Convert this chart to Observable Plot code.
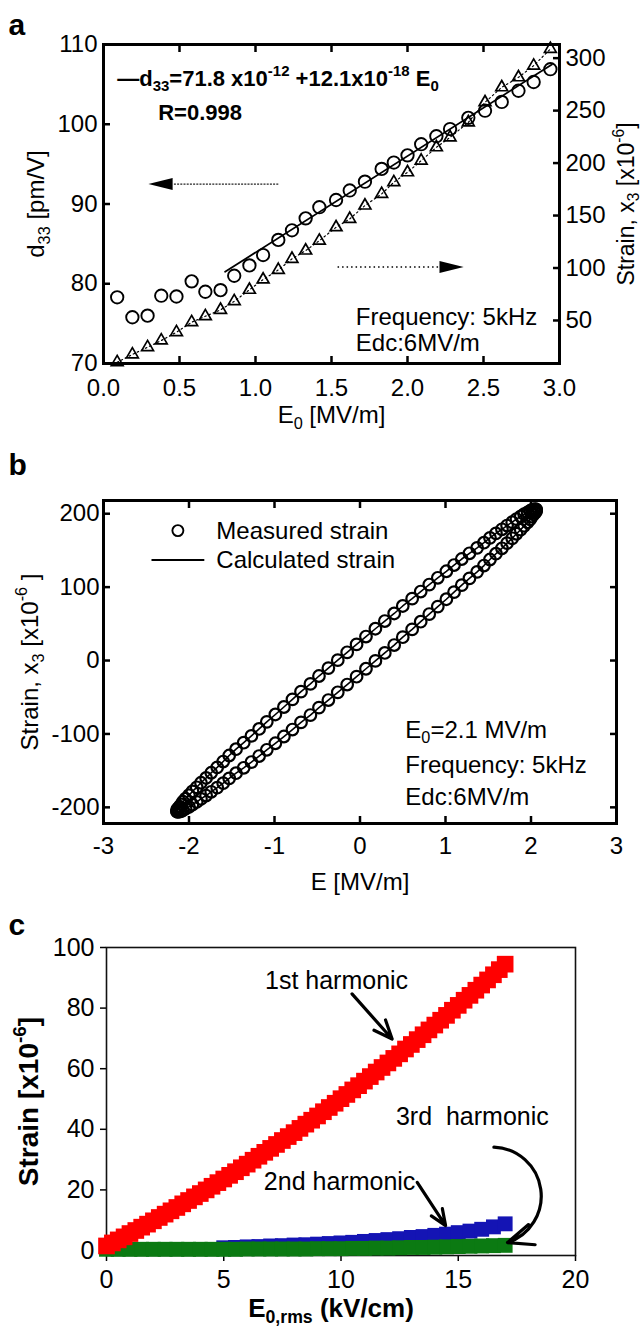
<!DOCTYPE html>
<html>
<head>
<meta charset="utf-8">
<script src="https://cdn.jsdelivr.net/npm/d3@7"></script>
<script src="https://cdn.jsdelivr.net/npm/@observablehq/plot@0.6"></script>
<style>
html, body { margin: 0; padding: 0; background: #fff; }
#chart { width: 644px; }
#chart svg { display: block; }
</style>
</head>
<body>
<div id="chart"></div>
<script>
// ================= Panel a data =================
const aE0 = [0.09,0.19,0.29,0.38,0.48,0.58,0.67,0.77,0.86,0.96,1.05,1.15,1.24,1.33,1.42,1.53,1.62,1.72,1.83,1.91,2.00,2.09,2.19,2.28,2.40,2.51,2.62,2.73,2.83,2.94];
const aD33 = [78.3,75.8,76.0,78.5,78.4,80.3,79.0,79.2,81.0,82.3,83.6,85.5,86.7,88.2,89.6,90.5,91.7,92.8,94.4,95.2,96.1,97.5,98.5,99.4,100.8,101.7,102.8,104.2,105.3,106.9];
const aStrain = [10.2,17.6,24.5,30.9,38.8,48.3,54.0,60.1,68.3,79.2,89.0,98.2,108.7,116.6,126.0,138.8,146.8,159.5,170.6,181.7,191.2,202.3,215.0,224.5,238.8,257.9,272.2,281.7,292.8,308.7];
const aFitE0 = [0.80, 2.95];
const aFitD33 = [81.5, 107.5];
const aXTicks = [0, 0.5, 1, 1.5, 2, 2.5, 3];
const aYTicks = [70, 80, 90, 100, 110];
const aStrainTicks = [50, 100, 150, 200, 250, 300];
const aStrainDomain = [9, 313];
const aArrowFrom = [1.15, 1.54];
const aArrowTo = [0.46, 2.22];
const aArrowY = [92.5, 82.1];
const aArrowHeadX = [0.375, 2.29];
const aArrowRot = [180, 0];
const aBoldText = ["—d_{33}=71.8 x10^{-12} +12.1x10^{-18} E_{0}", "R=0.998"];
const aBoldX = [0.09, 0.36];
const aBoldY = [105.7, 101.4];
const aNoteText = ["Frequency: 5kHz", "Edc:6MV/m"];
const aNoteX = [1.66, 1.66];
const aNoteY = [75.8, 72.5];

// ================= Panel b data =================
const bE = [2.06,2.06,2.05,2.03,2.01,1.99,1.96,1.92,1.88,1.83,1.78,1.72,1.66,1.59,1.52,1.45,1.37,1.28,1.19,1.10,1.01,0.91,0.81,0.71,0.61,0.50,0.40,0.29,0.18,0.07,
  -0.04,-0.15,-0.26,-0.37,-0.48,-0.58,-0.69,-0.79,-0.89,-0.99,-1.09,-1.18,-1.27,-1.36,-1.45,-1.53,-1.60,-1.67,-1.74,-1.80,-1.86,-1.91,-1.96,-2.00,-2.04,-2.07,-2.09,-2.11,-2.13,-2.14,
  -2.14,-2.14,-2.13,-2.11,-2.09,-2.07,-2.04,-2.00,-1.96,-1.91,-1.86,-1.80,-1.74,-1.67,-1.60,-1.53,-1.45,-1.36,-1.27,-1.18,-1.09,-0.99,-0.89,-0.79,-0.69,-0.58,-0.48,-0.37,-0.26,-0.15,
  -0.04,0.07,0.18,0.29,0.40,0.50,0.61,0.71,0.81,0.91,1.01,1.10,1.19,1.28,1.37,1.45,1.52,1.59,1.66,1.72,1.78,1.83,1.88,1.92,1.96,1.99,2.01,2.03,2.05,2.06];
const bS = [205.0,205.9,206.2,205.9,205.1,203.7,201.8,199.3,196.2,192.7,188.5,183.9,178.8,173.2,167.1,160.5,153.5,146.1,138.3,130.1,121.6,112.7,103.5,94.0,84.3,74.3,64.1,53.8,43.3,32.7,
  22.0,11.2,0.5,-10.3,-21.1,-31.8,-42.4,-52.9,-63.3,-73.5,-83.5,-93.2,-102.7,-111.9,-120.8,-129.4,-137.6,-145.5,-152.9,-160.0,-166.5,-172.7,-178.3,-183.5,-188.2,-192.3,-196.0,-199.0,-201.6,-203.6,
  -205.0,-205.9,-206.2,-205.9,-205.1,-203.7,-201.8,-199.3,-196.2,-192.7,-188.5,-183.9,-178.8,-173.2,-167.1,-160.5,-153.5,-146.1,-138.3,-130.1,-121.6,-112.7,-103.5,-94.0,-84.3,-74.3,-64.1,-53.8,-43.3,-32.7,
  -22.0,-11.2,-0.5,10.3,21.1,31.8,42.4,52.9,63.3,73.5,83.5,93.2,102.7,111.9,120.8,129.4,137.6,145.5,152.9,160.0,166.5,172.7,178.3,183.5,188.2,192.3,196.0,199.0,201.6,203.6];
const bXTicks = [-3, -2, -1, 0, 1, 2, 3];
const bYTicks = [-200, -100, 0, 100, 200];
const bLegendSymX = [-2.13];
const bLegendSymY = [177];
const bLegendLineX = [-2.43, -1.83];
const bLegendLineY = [137, 137];
const bNoteText = ["Measured strain", "Calculated strain", "E_{0}=2.1 MV/m", "Frequency: 5kHz", "Edc:6MV/m"];
const bNoteX = [-1.68, -1.68, 0.53, 0.53, 0.53];
const bNoteY = [176, 136, -95, -143, -187];

// ================= Panel c data =================
const cE1 = [0,0.25,0.5,0.75,1,1.25,1.5,1.75,2,2.25,2.5,2.75,3,3.25,3.5,3.75,4,4.25,4.5,4.75,5,5.25,5.5,5.75,6,6.25,6.5,6.75,7,7.25,7.5,7.75,8,8.25,8.5,8.75,9,9.25,9.5,9.75,10,10.25,10.5,10.75,11,11.25,11.5,11.75,12,12.25,12.5,12.75,13,13.25,13.5,13.75,14,14.25,14.5,14.75,15,15.25,15.5,15.75,16,16.25,16.5,16.75,17];
const cFirst = [1.5,2.5,3.5,4.5,5.6,6.6,7.7,8.7,9.8,10.9,12.0,13.1,14.2,15.4,16.5,17.7,18.8,20.0,21.2,22.4,23.6,24.8,26.0,27.3,28.5,29.8,31.1,32.4,33.7,35.0,36.3,37.6,38.9,40.3,41.7,43.0,44.4,45.8,47.2,48.6,50.1,51.5,53.0,54.4,55.9,57.4,58.9,60.4,61.9,63.4,64.9,66.5,68.0,69.6,71.2,72.8,74.4,76.0,77.6,79.3,80.9,82.6,84.2,85.9,87.6,89.3,91.0,92.7,94.5];
const cE = [0,0.5,1,1.5,2,2.5,3,3.5,4,4.5,5,5.5,6,6.5,7,7.5,8,8.5,9,9.5,10,10.5,11,11.5,12,12.5,13,13.5,14,14.5,15,15.5,16,16.5,17];
const cThird = [0.4,0.4,0.4,0.4,0.4,0.4,0.4,0.4,0.4,0.4,0.4,0.4,0.5,0.5,0.5,0.5,0.5,0.5,0.6,0.6,0.6,0.7,0.7,0.8,0.8,0.9,1.0,1.0,1.1,1.2,1.3,1.4,1.5,1.6,1.7];
const cE2 = [5,5.5,6,6.5,7,7.5,8,8.5,9,9.5,10,10.5,11,11.5,12,12.5,13,13.5,14,14.5,15,15.5,16,16.5,17];
const cSecond = [0.9,1.0,1.2,1.3,1.5,1.6,1.8,1.9,2.1,2.3,2.5,2.7,3.0,3.3,3.6,3.9,4.3,4.6,5.0,5.4,5.9,6.4,7.0,7.8,8.8];
const cXTicks = [0, 5, 10, 15, 20];
const cYTicks = [0, 20, 40, 60, 80, 100];
const cNoteText = ["1st harmonic", "2nd harmonic", "3rd  harmonic"];
const cNoteX = [9.81, 9.94, 15.6];
const cNoteY = [89.0, 22.5, 43.9];
const cArrowX1 = [10.47, 13.25];
const cArrowY1 = [84.7, 22.5];
const cArrowX2 = [12.18, 14.46];
const cArrowY2 = [69.8, 8.2];
const cCurveX = [16.52, 17.1];
const cCurveY = [34.1, 2.6];

// ================= helpers =================
const FONT = "'Liberation Sans', Arial, Helvetica, sans-serif";
const baseStyle = {fontFamily: FONT, fontSize: "24px", color: "black", background: "white", overflow: "visible"};
const idx = a => a.map((_, i) => i);
const noText = () => "";
const headSymbol = {
  draw(ctx, size) {
    const r = Math.sqrt(size / Math.PI);
    ctx.moveTo(1.1 * r, 0);
    ctx.lineTo(-1.1 * r, -0.55 * r);
    ctx.lineTo(-1.1 * r, 0.55 * r);
    ctx.closePath();
  }
};
const label = (txt, opts) => Plot.text([txt], {textAnchor: "middle", lineAnchor: "middle", fill: "black", ...opts});

function rich(root) {
  root.querySelectorAll("text").forEach(t => {
    const s = t.textContent;
    if (!/[_^]\{/.test(s)) return;
    const fs = parseFloat(getComputedStyle(t).fontSize) || 24;
    while (t.firstChild) t.removeChild(t.firstChild);
    const re = /([_^])\{([^}]*)\}/g;
    let last = 0, shift = 0, m;
    const add = (str, kind) => {
      const ts = document.createElementNS("http://www.w3.org/2000/svg", "tspan");
      const target = kind === "_" ? 0.23 * fs : kind === "^" ? -0.45 * fs : 0;
      const dy = target - shift;
      if (dy) ts.setAttribute("dy", dy.toFixed(2));
      shift = target;
      if (kind) ts.setAttribute("font-size", (0.68 * fs).toFixed(1));
      ts.textContent = str;
      t.appendChild(ts);
    };
    while ((m = re.exec(s))) {
      if (m.index > last) add(s.slice(last, m.index), null);
      add(m[2], m[1]);
      last = re.lastIndex;
    }
    if (last < s.length) add(s.slice(last), null);
  });
}

const chart = document.getElementById("chart");

// ================= Panel a =================
const toD = s => 70 + (s - aStrainDomain[0]) * 40 / (aStrainDomain[1] - aStrainDomain[0]);
const fromD = d => Math.round(aStrainDomain[0] + (d - 70) * (aStrainDomain[1] - aStrainDomain[0]) / 40);
const aI = idx(aE0);
const aStrainTickPos = aStrainTicks.map(toD);

const plotA = Plot.plot({
  width: 644, height: 445,
  marginTop: 44, marginBottom: 82, marginLeft: 103, marginRight: 85,
  x: {domain: [0, 3]},
  y: {domain: [70, 110]},
  style: baseStyle,
  marks: [
    Plot.axisX(aXTicks, {anchor: "bottom", tickSize: 0, tickPadding: 15, tickFormat: d3.format(".1f"), label: null}),
    Plot.axisX(aXTicks.slice(1, -1), {anchor: "bottom", tickSize: -7, strokeWidth: 2.5, tickFormat: noText, label: null}),
    Plot.axisX(aXTicks.slice(1, -1), {anchor: "top", tickSize: -7, strokeWidth: 2.5, tickFormat: noText, label: null}),
    Plot.axisY(aYTicks, {anchor: "left", tickSize: 0, tickPadding: 6, label: null}),
    Plot.axisY(aYTicks.slice(1, -1), {anchor: "left", tickSize: -7, strokeWidth: 2.5, tickFormat: noText, label: null}),
    Plot.axisY(aStrainTickPos, {anchor: "right", tickSize: 0, tickPadding: 6, tickFormat: d => String(fromD(d)), label: null}),
    Plot.axisY(aStrainTickPos, {anchor: "right", tickSize: -7, strokeWidth: 2.5, tickFormat: noText, label: null}),
    Plot.frame({stroke: "black", strokeWidth: 3}),
    Plot.line(aI, {x: i => aE0[i], y: i => toD(aStrain[i]), stroke: "black", strokeWidth: 1.2, strokeDasharray: "1.5,3"}),
    Plot.dot(aI, {x: i => aE0[i], y: i => toD(aStrain[i]), symbol: "triangle", r: 4.4, stroke: "black", strokeWidth: 1.7, fill: "none"}),
    Plot.line(idx(aFitE0), {x: i => aFitE0[i], y: i => aFitD33[i], stroke: "black", strokeWidth: 1.8}),
    Plot.dot(aI, {x: i => aE0[i], y: i => aD33[i], r: 6.2, stroke: "black", strokeWidth: 1.9, fill: "none"}),
    Plot.link([0], {x1: i => aArrowFrom[i], x2: i => aArrowTo[i], y1: i => aArrowY[i], y2: i => aArrowY[i], stroke: "#222", strokeWidth: 1.3, strokeDasharray: "2,1.2"}),
    Plot.link([1], {x1: i => aArrowFrom[i], x2: i => aArrowTo[i], y1: i => aArrowY[i], y2: i => aArrowY[i], stroke: "black", strokeWidth: 1.5, strokeDasharray: "1.5,3"}),
    Plot.dot(idx(aArrowHeadX), {x: i => aArrowHeadX[i], y: i => aArrowY[i], symbol: headSymbol, r: 11, fill: "black", stroke: "none", rotate: i => aArrowRot[i]}),
    Plot.text(idx(aBoldText), {x: i => aBoldX[i], y: i => aBoldY[i], text: i => aBoldText[i], textAnchor: "start", fontWeight: "bold", fontSize: 22, fill: "black"}),
    Plot.text(idx(aNoteText), {x: i => aNoteX[i], y: i => aNoteY[i], text: i => aNoteText[i], textAnchor: "start", fill: "black"}),
    label("d_{33} [pm/V]", {frameAnchor: "left", dx: -67, rotate: -90}),
    label("Strain, x_{3} [x10^{-6}]", {frameAnchor: "right", dx: 67, rotate: -90, fontSize: 23}),
    label("E_{0} [MV/m]", {frameAnchor: "bottom", dy: 52}),
    label("a", {frameAnchor: "top-left", dx: -95, dy: -19, textAnchor: "start", fontWeight: "bold", fontSize: 30})
  ]
});
chart.appendChild(plotA);

// ================= Panel b =================
const bI = idx(bE);
const plotB = Plot.plot({
  width: 644, height: 455,
  marginTop: 55, marginBottom: 77, marginLeft: 103, marginRight: 28,
  x: {domain: [-3, 3]},
  y: {domain: [-222, 218]},
  style: baseStyle,
  marks: [
    Plot.axisX(bXTicks, {anchor: "bottom", tickSize: 0, tickPadding: 13, tickFormat: d => String(d), label: null}),
    Plot.axisX(bXTicks.slice(1, -1), {anchor: "bottom", tickSize: -7, strokeWidth: 2.5, tickFormat: noText, label: null}),
    Plot.axisX(bXTicks.slice(1, -1), {anchor: "top", tickSize: -7, strokeWidth: 2.5, tickFormat: noText, label: null}),
    Plot.axisY(bYTicks, {anchor: "left", tickSize: 0, tickPadding: 4, tickFormat: d => String(d), label: null}),
    Plot.axisY(bYTicks, {anchor: "left", tickSize: -7, strokeWidth: 2.5, tickFormat: noText, label: null}),
    Plot.axisY(bYTicks, {anchor: "right", tickSize: -7, strokeWidth: 2.5, tickFormat: noText, label: null}),
    Plot.frame({stroke: "black", strokeWidth: 3}),
    Plot.line(bI, {x: i => bE[i], y: i => bS[i], curve: "linear-closed", stroke: "black", strokeWidth: 1.6}),
    Plot.dot(bI, {x: i => bE[i], y: i => bS[i], r: 5.8, stroke: "black", strokeWidth: 2.2, fill: "none"}),
    Plot.dot(idx(bLegendSymX), {x: i => bLegendSymX[i], y: i => bLegendSymY[i], r: 5.5, stroke: "black", strokeWidth: 1.9, fill: "none"}),
    Plot.line(idx(bLegendLineX), {x: i => bLegendLineX[i], y: i => bLegendLineY[i], stroke: "black", strokeWidth: 2}),
    Plot.text(idx(bNoteText), {x: i => bNoteX[i], y: i => bNoteY[i], text: i => bNoteText[i], textAnchor: "start", fill: "black"}),
    label("Strain, x_{3} [x10^{-6} ]", {frameAnchor: "left", dx: -73, rotate: -90}),
    label("E [MV/m]", {frameAnchor: "bottom", dy: 59}),
    label("b", {frameAnchor: "top-left", dx: -95, dy: -35, textAnchor: "start", fontWeight: "bold", fontSize: 30})
  ]
});
chart.appendChild(plotB);

// ================= Panel c =================
const plotC = Plot.plot({
  width: 644, height: 430,
  marginTop: 47, marginBottom: 75, marginLeft: 106, marginRight: 69,
  x: {domain: [0, 20]},
  y: {domain: [-1.65, 100]},
  style: {...baseStyle, fontSize: "25px"},
  marks: [
    Plot.axisX(cXTicks, {anchor: "bottom", tickSize: 6, tickPadding: 9, strokeWidth: 1.5, tickFormat: d => String(d), label: null}),
    Plot.axisY(cYTicks, {anchor: "left", tickSize: 6, tickPadding: 6, strokeWidth: 1.5, tickFormat: d => String(d), label: null}),
    Plot.frame({stroke: "#111", strokeWidth: 1.6}),
    Plot.dot(idx(cE2), {x: i => cE2[i], y: i => cSecond[i], symbol: "square", r: 8.4, fill: "#1414b4", stroke: "none"}),
    Plot.dot(idx(cE), {x: i => cE[i], y: i => cThird[i], symbol: "square", r: 8.4, fill: "#0b7a12", stroke: "none"}),
    Plot.dot(idx(cE1), {x: i => cE1[i], y: i => cFirst[i], symbol: "square", r: 9.4, fill: "#ff0000", stroke: "none"}),
    Plot.text(idx(cNoteText), {x: i => cNoteX[i], y: i => cNoteY[i], text: i => cNoteText[i], fill: "black"}),
    Plot.arrow(idx(cArrowX1), {x1: i => cArrowX1[i], y1: i => cArrowY1[i], x2: i => cArrowX2[i], y2: i => cArrowY2[i], stroke: "black", strokeWidth: 3.2, headLength: 13, headAngle: 45}),
    Plot.arrow([0], {x1: cCurveX[0], y1: cCurveY[0], x2: cCurveX[1], y2: cCurveY[1], bend: 80, stroke: "black", strokeWidth: 3.2, headLength: 13, headAngle: 45}),
    label("Strain [x10^{-6}]", {frameAnchor: "left", dx: -77, rotate: -90, fontWeight: "bold", fontSize: 28}),
    label("E_{0,rms} (kV/cm)", {frameAnchor: "bottom", dy: 53, dx: -10, fontWeight: "bold", fontSize: 26}),
    label("c", {frameAnchor: "top-left", dx: -98, dy: -22, textAnchor: "start", fontWeight: "bold", fontSize: 30})
  ]
});
chart.appendChild(plotC);

rich(chart);
</script>
</body>
</html>
